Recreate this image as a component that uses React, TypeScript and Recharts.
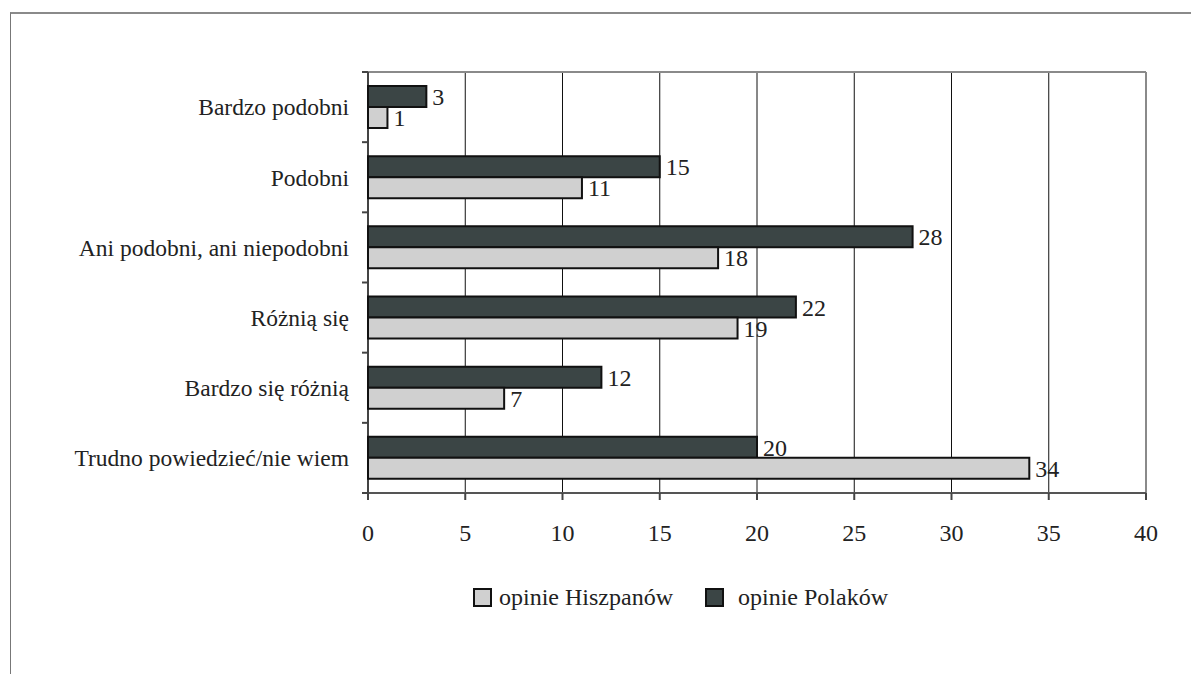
import React from 'react';
import { BarChart, Bar, XAxis, YAxis, CartesianGrid, LabelList, usePlotArea } from 'recharts';

const categories = [
  'Bardzo podobni',
  'Podobni',
  'Ani podobni, ani niepodobni',
  'Różnią się',
  'Bardzo się różnią',
  'Trudno powiedzieć/nie wiem',
];
const polakow = [3, 15, 28, 22, 12, 20];
const hiszpanow = [1, 11, 18, 19, 7, 34];
const xTicks = [0, 5, 10, 15, 20, 25, 30, 35, 40];

const data = categories.map((name, i) => ({ name, polakow: polakow[i], hiszpanow: hiszpanow[i] }));

const FONT = '"Liberation Serif", "Times New Roman", serif';
const DARK = '#3b4545';
const LIGHT = '#d0d0d0';

// grey frame on top/right of the plot + little ticks between categories on the left axis
const PlotFrame: React.FC = () => {
  const area = usePlotArea();
  if (!area) return null;
  const { x, y, width, height } = area;
  const step = height / categories.length;
  return (
    <g>
      <line x1={x} y1={y} x2={x + width} y2={y} stroke="#8a8a8a" strokeWidth={2} />
      <line x1={x + width} y1={y} x2={x + width} y2={y + height} stroke="#8a8a8a" strokeWidth={2} />
      <line x1={x} y1={y + height} x2={x + width} y2={y + height} stroke="#555" strokeWidth={2} />
      <line x1={x} y1={y} x2={x} y2={y + height} stroke="#444" strokeWidth={2} />
      {categories.map((_, i) => (
        <line key={i} x1={x - 6} y1={y + i * step} x2={x} y2={y + i * step} stroke="#444" strokeWidth={2} />
      ))}
      <line x1={x - 6} y1={y + height} x2={x} y2={y + height} stroke="#444" strokeWidth={2} />
    </g>
  );
};

const swatch = (fill: string): React.CSSProperties => ({
  display: 'inline-block',
  width: 15,
  height: 15,
  background: fill,
  border: '2px solid #111',
});

export default function App() {
  return (
    <div style={{ position: 'absolute', left: 0, top: 0, width: 1191, height: 674, background: '#fff', overflow: 'hidden' }}>
      <div style={{ position: 'absolute', left: 10, top: 12, width: 1300, height: 800, borderLeft: '1px solid #777', borderTop: '2px solid #8a8a8a' }} />
      <div style={{ position: 'absolute', left: 0, top: 0 }}>
        <BarChart
          width={1191}
          height={674}
          data={data}
          layout="vertical"
          margin={{ top: 72, right: 45, bottom: 121, left: 0 }}
          barCategoryGap="20%"
          barGap={0}
        >
          <CartesianGrid horizontal={false} stroke="#111" strokeWidth={1} />
          <XAxis
            type="number"
            domain={[0, 40]}
            ticks={xTicks}
            height={60}
            axisLine={false}
            tickLine={{ stroke: '#444', strokeWidth: 2 }}
            tickSize={7}
            tickMargin={24}
            tick={{ fontFamily: FONT, fontSize: 24, fill: '#222' }}
            interval={0}
          />
          <YAxis
            type="category"
            dataKey="name"
            width={368}
            axisLine={false}
            tickLine={false}
            tickMargin={13}
            tick={{ fontFamily: FONT, fontSize: 23.5, fill: '#222' }}
            interval={0}
          />
          <Bar dataKey="polakow" name="opinie Polaków" fill={DARK} stroke="#111" strokeWidth={2} isAnimationActive={false}>
            <LabelList dataKey="polakow" position="right" offset={6} fontFamily={FONT} fontSize={24} fill="#222" />
          </Bar>
          <Bar dataKey="hiszpanow" name="opinie Hiszpanów" fill={LIGHT} stroke="#111" strokeWidth={2} isAnimationActive={false}>
            <LabelList dataKey="hiszpanow" position="right" offset={6} fontFamily={FONT} fontSize={24} fill="#222" />
          </Bar>
          <PlotFrame />
        </BarChart>
      </div>
      <div style={{ position: 'absolute', left: 473, top: 584, display: 'flex', alignItems: 'center', fontFamily: FONT, fontSize: 24, color: '#222', lineHeight: '26px' }}>
        <span style={swatch(LIGHT)} />
        <span style={{ marginLeft: 7 }}>opinie Hiszpanów</span>
        <span style={{ ...swatch(DARK), marginLeft: 32 }} />
        <span style={{ marginLeft: 14 }}>opinie Polaków</span>
      </div>
    </div>
  );
}
